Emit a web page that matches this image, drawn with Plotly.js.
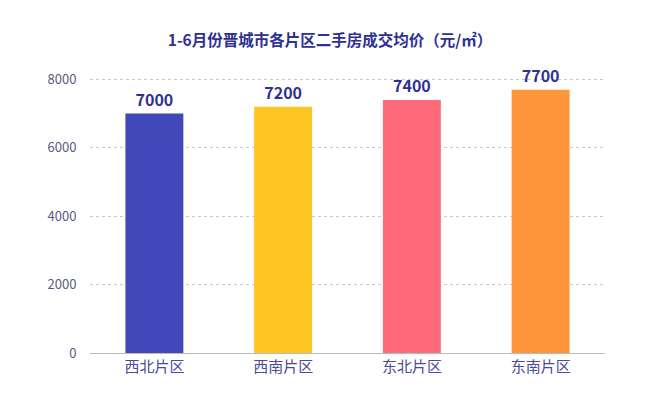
<!DOCTYPE html>
<html><head><meta charset="utf-8">
<script src="https://cdn.plot.ly/plotly-3.0.1.min.js"></script>
<style>body{margin:0;background:#fff}#c{width:660px;height:403px}</style>
</head><body><div id="c"></div>
<script>
const categories = ['西北片区','西南片区','东北片区','东南片区'];
const values = [7000, 7200, 7400, 7700];
const colors = ['#4148B9','#FFC522','#FF6B7B','#FF963B'];
const tickVals = [0,2000,4000,6000,8000];

const font = '"Noto Sans CJK SC", "Noto Sans", sans-serif';
Plotly.newPlot('c', [{
  type:'bar', x:categories, y:values,
  marker:{color:colors},
  width:0.45,
  text:values.map(String), textposition:'outside', cliponaxis:false,
  textfont:{family:font, size:16, color:'#2E3192', weight:'bold'},
  hoverinfo:'skip'
}], {
  width:660, height:403,
  margin:{l:90, r:55, t:76, b:50},
  paper_bgcolor:'#fff', plot_bgcolor:'#fff',
  title:{text:'1-6月份晋城市各片区二手房成交均价（元/㎡）', x:0.5, xanchor:'center', y:0.9, yanchor:'middle',
    font:{family:font, size:15.5, color:'#2E3192', weight:'bold'}},
  xaxis:{tickfont:{family:font, size:15, color:'#4A4A9A'}, showline:true, linecolor:'#BBBBBB', linewidth:1,
    ticks:'', fixedrange:true},
  yaxis:{range:[0,8100], tickvals:tickVals, tickfont:{family:font, size:13, color:'#5A5A80'},
    showgrid:true, gridcolor:'#C8C8C8', griddash:'3px,3px', gridwidth:1, zeroline:false, ticklen:0, ticks:'outside', tickcolor:'rgba(0,0,0,0)', ticklabelstandoff:10},
  bargap:0.55, showlegend:false
}, {staticPlot:true});
</script></body></html>
